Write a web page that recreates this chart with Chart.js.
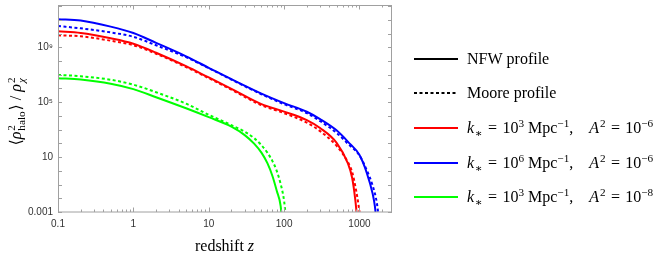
<!DOCTYPE html>
<html><head><meta charset="utf-8">
<script src="https://cdn.jsdelivr.net/npm/chart.js@4.4.1/dist/chart.umd.min.js"></script>
<style>html,body{margin:0;padding:0;background:#fff;}#wrap{width:664px;height:259px;}</style>
</head><body><div id="wrap"><canvas id="c" width="664" height="259"></canvas></div>
<script>
// ---- tick labels ----
const xTickValues = [0.1, 1, 10, 100, 1000];
const xTickLabels = ['0.1', '1', '10', '100', '1000'];
const yTickValues = [0.001, 10, 1e5, 1e9];
const yTickLabels = ['0.001', '10', '10⁵', '10⁹'];

// ---- series (redshift z, <rho^2_halo>/rho^2_chi) ----
const zRedNFW   = [0.1,0.2,0.5,1,2,5,10,20,50,100,200,300,500,700,800,880,950];
const redNFW    = [1.45e10,1.1e10,4.5e9,1.8e9,4.0e8,4.2e7,6.3e6,9.4e5,7.2e4,2.05e4,4.9e3,1.3e3,105,3.6,0.3,7.5e-3,1e-4];
const zRedMoore = [0.1,0.2,0.5,1,2,5,10,20,50,100,200,300,500,700,800,900,980,1050];
const redMoore  = [7.4e9,6.3e9,3.0e9,1.4e9,3.4e8,3.6e7,5.6e6,8.1e5,6.0e4,1.6e4,3.2e3,780,63,4.4,0.81,0.04,2.3e-3,1e-4];

const zBlueNFW   = [0.1,0.2,0.5,1,2,5,10,20,50,100,200,300,500,700,1000,1250,1500,1600,1700];
const blueNFW    = [1.1e11,8.9e10,3.2e10,1.1e10,2.1e9,2.2e8,3.2e7,4.7e6,4.2e5,8.5e4,2.0e4,5.8e3,850,135,14,0.7,0.02,2.7e-3,1e-4];
const zBlueMoore = [0.1,0.2,0.5,1,2,5,10,20,50,100,200,300,500,700,1000,1250,1500,1700,1850];
const blueMoore  = [3.5e10,2.4e10,1.2e10,5.8e9,1.4e9,1.9e8,3.0e7,4.4e6,3.8e5,7.1e4,1.6e4,4.2e3,560,95,13,1.1,0.078,4.5e-3,1e-4];

const zGreenNFW   = [0.1,0.2,0.5,1,2,5,10,20,30,40,50,60,70,80,90,95];
const greenNFW    = [5.6e6,4.4e6,2.2e6,8.9e5,2.3e5,3.6e4,8.1e3,1.66e3,400,95,21,3.6,0.42,0.034,2.7e-3,1e-4];
const zGreenMoore = [0.1,0.2,0.5,1,2,5,10,20,30,40,50,60,70,80,90,100,108];
const greenMoore  = [9.7e6,7.8e6,4.3e6,1.9e6,5.3e5,7.8e4,1.2e4,2.1e3,710,240,74,21,5.1,0.95,0.11,6.3e-3,1e-4];

const RED = '#ff0000', BLUE = '#0000ff', GREEN = '#00ff00';
const DASH = [3, 2.5];
const SERIF = '"Liberation Serif", "DejaVu Serif", serif';

function pts(zs, vs){ return zs.map((z,i)=>({x:z, y:vs[i]})); }
function ds(zs, vs, color, dashed){
  return {data: pts(zs, vs), borderColor: color, borderWidth: 2, borderDash: dashed ? DASH : [],
    showLine: true, pointRadius: 0, fill: false, cubicInterpolationMode: 'monotone'};
}

// rich-text drawing (sup/sub)
function N(t){return {t};}
function I(t){return {t, i:true};}
function SUP(t, i){return {t, sup:true, i};}
function SUB(t, i){return {t, sub:true, i};}
function STACK(a, b, bi){return {stack:[a,b], bi};}
function rich(ctx, x, y, parts, size, draw){
  let cx = x;
  const f = (it, s)=>`${it?'italic ':''}${s}px ${SERIF}`;
  for (const p of parts){
    if (p.stack){
      const s = size*0.7;
      ctx.font = f(false, s);
      const w1 = ctx.measureText(p.stack[0]).width;
      if (draw) ctx.fillText(p.stack[0], cx, y - size*0.4);
      ctx.font = f(p.bi, s);
      const w2 = ctx.measureText(p.stack[1]).width;
      if (draw) ctx.fillText(p.stack[1], cx, y + size*0.25);
      cx += Math.max(w1, w2) + 1;
      continue;
    }
    const s = (p.sup||p.sub) ? size*0.7 : size;
    ctx.font = f(p.i, s);
    let dy = 0;
    if (p.sup) dy = -size*0.4;
    if (p.sub) dy = size*0.25;
    if (draw) ctx.fillText(p.t, cx, y+dy);
    cx += ctx.measureText(p.t).width + (p.i ? 1 : 0);
  }
  return cx - x;
}

const EQ = '\u2004=\u200410';
function kLine(kExp, aExp){
  return [I('k'),SUB('∗'),N(EQ),SUP(kExp),N(' Mpc'),SUP('−1'),N(',\u2002\u2002'),I('A'),SUP('2'),N(EQ),SUP(aExp)];
}
const legendItems = [
  {color:'#000', dash:false, parts:[N('NFW profile')]},
  {color:'#000', dash:true,  parts:[N('Moore profile')]},
  {color:RED,  dash:false, parts:kLine('3','−6')},
  {color:BLUE, dash:false, parts:kLine('6','−6')},
  {color:GREEN,dash:false, parts:kLine('3','−8')},
];
const legendY = [59, 93, 128, 163, 197];

const decor = {
  id: 'decor',
  afterDraw(chart){
    const ctx = chart.ctx, a = chart.chartArea;
    const xs = chart.scales.x, ys = chart.scales.y;
    ctx.save();
    // frame
    ctx.strokeStyle = '#a0a0a0'; ctx.lineWidth = 1;
    ctx.strokeRect(a.left+0.5, a.top+0.5, a.right-a.left-1, a.bottom-a.top-0.5);
    // y ticks every decade
    ctx.beginPath();
    for (let e=-3; e<=13; e++){
      const v = Math.pow(10, e);
      if (v < ys.min || v > ys.max) continue;
      const py = Math.round(ys.getPixelForValue(v)) + 0.5;
      ctx.moveTo(a.left, py); ctx.lineTo(a.left+4, py);
      ctx.moveTo(a.right, py); ctx.lineTo(a.right-4, py);
    }
    // x ticks
    for (let d=-1; d<=3; d++){
      for (let m=1; m<=9; m++){
        const v = m*Math.pow(10, d);
        if (v < xs.min || v > xs.max) continue;
        const px = Math.round(xs.getPixelForValue(v)) + 0.5;
        const len = m===1 ? 4.5 : 2.5;
        ctx.moveTo(px, a.bottom); ctx.lineTo(px, a.bottom-len);
        ctx.moveTo(px, a.top); ctx.lineTo(px, a.top+len);
      }
    }
    ctx.stroke();

    ctx.fillStyle = '#000';
    ctx.textBaseline = 'alphabetic';
    // x title
    const xt = [N('redshift '), I('z')];
    const wx = rich(ctx, 0, 0, xt, 16, false);
    rich(ctx, (a.left+a.right)/2 - wx/2, 251, xt, 16, true);
    // y title
    const yt = [N('⟨'), I('ρ'), STACK('2','halo'), N('⟩ / '), I('ρ'), STACK('2','χ', true)];
    const wy = rich(ctx, 0, 0, yt, 16, false);
    ctx.save();
    ctx.translate(21, 111);
    ctx.rotate(-Math.PI/2);
    rich(ctx, -wy/2, 0, yt, 16, true);
    ctx.restore();

    // legend
    legendItems.forEach((it, k)=>{
      const y = legendY[k];
      ctx.strokeStyle = it.color; ctx.lineWidth = 2;
      ctx.setLineDash(it.dash ? DASH : []);
      ctx.beginPath(); ctx.moveTo(414, y); ctx.lineTo(458, y); ctx.stroke();
      ctx.setLineDash([]);
      ctx.fillStyle = '#000';
      rich(ctx, 467, y+5, it.parts, 16, true);
    });
    ctx.restore();
  }
};

const tickFont = {family:'"Liberation Sans", Arial, sans-serif', size:10};
new Chart(document.getElementById('c'), {
  type: 'scatter',
  data: { datasets: [
    ds(zRedNFW, redNFW, RED, false),
    ds(zRedMoore, redMoore, RED, true),
    ds(zBlueNFW, blueNFW, BLUE, false),
    ds(zBlueMoore, blueMoore, BLUE, true),
    ds(zGreenNFW, greenNFW, GREEN, false),
    ds(zGreenMoore, greenMoore, GREEN, true),
  ]},
  options: {
    responsive: false, animation: false, devicePixelRatio: 1,
    layout: { padding: { left: 0, top: 5, right: 272, bottom: 0 } },
    plugins: { legend: {display:false}, tooltip: {enabled:false} },
    scales: {
      x: {
        type: 'logarithmic', min: 0.1, max: 2700, position: 'bottom',
        grid: {display:false, drawTicks:false}, border: {display:false},
        afterBuildTicks: s => { s.ticks = xTickValues.map(v=>({value:v})); },
        afterFit: s => { s.height = 47; s.paddingLeft = 0; s.paddingRight = 0; },
        ticks: { autoSkip:false, maxRotation:0, padding: 6, color:'#333', font: tickFont,
          callback: v => { const i = xTickValues.indexOf(v); return i<0 ? '' : xTickLabels[i]; } }
      },
      y: {
        type: 'logarithmic', min: 1e-3, max: 1.2e12,
        grid: {display:false, drawTicks:false}, border: {display:false},
        afterBuildTicks: s => { s.ticks = yTickValues.map(v=>({value:v})); },
        afterFit: s => { s.width = 58; s.paddingTop = 0; s.paddingBottom = 0; },
        ticks: { autoSkip:false, padding: 5, color:'#333', font: tickFont,
          callback: v => { const i = yTickValues.indexOf(v); return i<0 ? '' : yTickLabels[i]; } }
      }
    }
  },
  plugins: [decor]
});
</script></body></html>
